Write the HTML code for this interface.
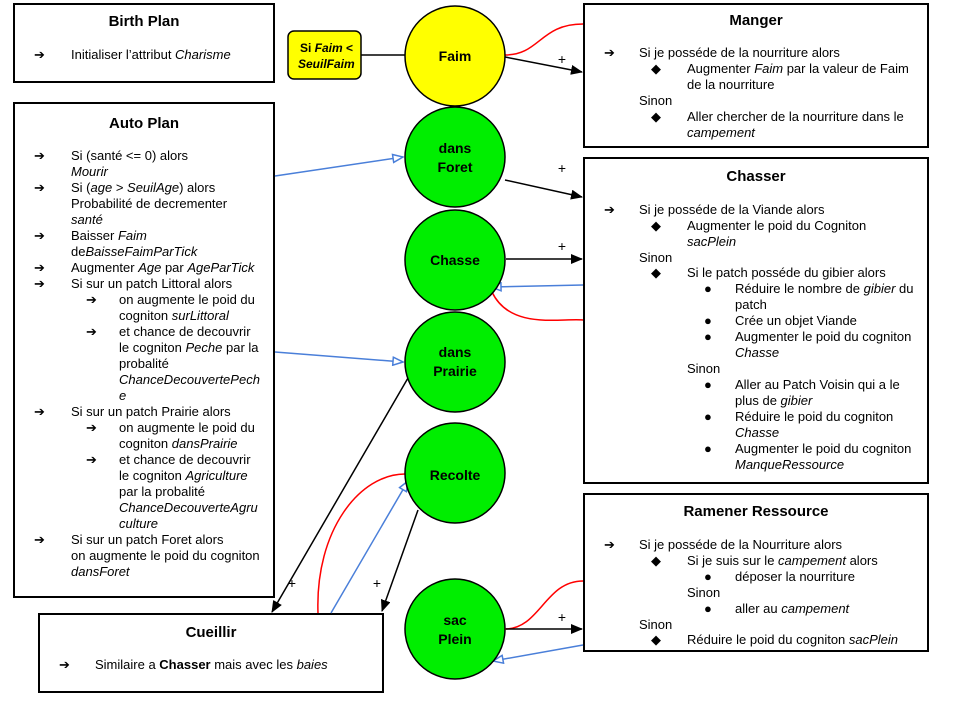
<!DOCTYPE html>
<html><head><meta charset="utf-8"><style>
body{margin:0;width:960px;height:720px;background:#fff;position:relative;overflow:hidden;font-family:"Liberation Sans",sans-serif;font-size:13px;color:#000}
.box{position:absolute;border:2px solid #000;background:#fff;box-sizing:border-box}
.t{position:absolute;white-space:nowrap;line-height:16px}
.h{position:absolute;font-weight:bold;font-size:15px;text-align:center;white-space:nowrap}
i{font-style:italic}
svg{position:absolute;left:0;top:0}
</style></head><body>
<div class="box" style="left:13px;top:3px;width:262px;height:80px"></div>
<div class="box" style="left:13px;top:102px;width:262px;height:496px"></div>
<div class="box" style="left:583px;top:3px;width:346px;height:145px"></div>
<div class="box" style="left:583px;top:157px;width:346px;height:327px"></div>
<div class="box" style="left:583px;top:493px;width:346px;height:159px"></div>
<div class="box" style="left:38px;top:613px;width:346px;height:80px"></div>

<svg width="960" height="720">
<defs>
<marker id="ab" markerWidth="12" markerHeight="10" refX="11" refY="5" orient="auto" markerUnits="userSpaceOnUse"><path d="M0,0 L12,5 L0,10z" fill="#000"/></marker>
<marker id="bl" markerWidth="12" markerHeight="10" refX="11" refY="5" orient="auto" markerUnits="userSpaceOnUse"><path d="M1,1 L11,5 L1,9z" fill="#fff" stroke="#4a7fd9" stroke-width="1.5"/></marker>
</defs>
<rect x="288" y="31" width="73" height="48" rx="6" fill="#ffff00" stroke="#000" stroke-width="1.5"/>
<line x1="361" y1="55" x2="405" y2="55" stroke="#000" stroke-width="1.5"/>
<g stroke-width="1.5" fill="none">
<path d="M505,55 C540,55 540,24 583,24" stroke="#f00"/>
<path d="M492,292 C510,330 560,318 583,320" stroke="#f00"/>
<path d="M318,613 C315,530 360,474 405,474" stroke="#f00"/>
<path d="M505,629 C540,629 545,581 583,581" stroke="#f00"/>
<line x1="505" y1="57" x2="582" y2="72" stroke="#000" marker-end="url(#ab)"/>
<line x1="505" y1="180" x2="582" y2="197" stroke="#000" marker-end="url(#ab)"/>
<line x1="506" y1="259" x2="582" y2="259" stroke="#000" marker-end="url(#ab)"/>
<line x1="408" y1="378" x2="272" y2="612" stroke="#000" marker-end="url(#ab)"/>
<line x1="418" y1="510" x2="382" y2="611" stroke="#000" marker-end="url(#ab)"/>
<line x1="506" y1="629" x2="582" y2="629" stroke="#000" marker-end="url(#ab)"/>
<line x1="275" y1="176" x2="403" y2="157" stroke="#4a7fd9" marker-end="url(#bl)"/>
<line x1="583" y1="285" x2="491" y2="287" stroke="#4a7fd9" marker-end="url(#bl)"/>
<line x1="275" y1="352" x2="403" y2="362" stroke="#4a7fd9" marker-end="url(#bl)"/>
<line x1="331" y1="613" x2="408" y2="481" stroke="#4a7fd9" marker-end="url(#bl)"/>
<line x1="583" y1="645" x2="493" y2="661" stroke="#4a7fd9" marker-end="url(#bl)"/>
</g>
<g stroke="#000" stroke-width="1.5">
<circle cx="455" cy="56" r="50" fill="#ffff00"/>
<circle cx="455" cy="157" r="50" fill="#00ee00"/>
<circle cx="455" cy="260" r="50" fill="#00ee00"/>
<circle cx="455" cy="362" r="50" fill="#00ee00"/>
<circle cx="455" cy="473" r="50" fill="#00ee00"/>
<circle cx="455" cy="629" r="50" fill="#00ee00"/>
</g>
<g font-family="Liberation Sans" font-weight="bold" font-size="14" text-anchor="middle">
<text x="455" y="61">Faim</text>
<text x="455" y="153">dans</text><text x="455" y="172">Foret</text>
<text x="455" y="265">Chasse</text>
<text x="455" y="357">dans</text><text x="455" y="376">Prairie</text>
<text x="455" y="480">Recolte</text>
<text x="455" y="625">sac</text><text x="455" y="644">Plein</text>
<text x="300" y="52" text-anchor="start" font-size="12">Si <tspan font-style="italic">Faim</tspan> &lt;</text>
<text x="298" y="68" text-anchor="start" font-size="12" font-style="italic">SeuilFaim</text>
</g>
<g font-family="Liberation Sans" font-size="14" text-anchor="middle">
<text x="562" y="64">+</text><text x="562" y="173">+</text><text x="562" y="251">+</text>
<text x="562" y="622">+</text><text x="292" y="588">+</text><text x="377" y="588">+</text>
</g>
</svg>

<div class="h" style="left:13px;width:262px;top:13px">Birth Plan</div>
<div class="t" style="left:34px;top:47px">➔</div><div class="t" style="left:71px;top:47px">Initialiser l’attribut <i>Charisme</i></div>

<div class="h" style="left:13px;width:262px;top:115px">Auto Plan</div>
<div class="t" style="left:34px;top:148px">➔</div><div class="t" style="left:71px;top:148px">Si (santé &lt;= 0) alors<br><i>Mourir</i></div>
<div class="t" style="left:34px;top:180px">➔</div><div class="t" style="left:71px;top:180px">Si (<i>age</i> &gt; <i>SeuilAge</i>) alors<br>Probabilité de decrementer<br><i>santé</i></div>
<div class="t" style="left:34px;top:228px">➔</div><div class="t" style="left:71px;top:228px">Baisser <i>Faim</i><br>de<i>BaisseFaimParTick</i></div>
<div class="t" style="left:34px;top:260px">➔</div><div class="t" style="left:71px;top:260px">Augmenter <i>Age</i> par <i>AgeParTick</i></div>
<div class="t" style="left:34px;top:276px">➔</div><div class="t" style="left:71px;top:276px">Si sur un patch Littoral alors</div>
<div class="t" style="left:86px;top:292px">➔</div><div class="t" style="left:119px;top:292px">on augmente le poid du<br>cogniton <i>surLittoral</i></div>
<div class="t" style="left:86px;top:324px">➔</div><div class="t" style="left:119px;top:324px">et chance de decouvrir<br>le cogniton <i>Peche</i> par la<br>probalité<br><i>ChanceDecouvertePech<br>e</i></div>
<div class="t" style="left:34px;top:404px">➔</div><div class="t" style="left:71px;top:404px">Si sur un patch Prairie alors</div>
<div class="t" style="left:86px;top:420px">➔</div><div class="t" style="left:119px;top:420px">on augmente le poid du<br>cogniton <i>dansPrairie</i></div>
<div class="t" style="left:86px;top:452px">➔</div><div class="t" style="left:119px;top:452px">et chance de decouvrir<br>le cogniton <i>Agriculture</i><br>par la probalité<br><i>ChanceDecouverteAgru<br>culture</i></div>
<div class="t" style="left:34px;top:532px">➔</div><div class="t" style="left:71px;top:532px">Si sur un patch Foret alors<br>on augmente le poid du cogniton<br><i>dansForet</i></div>

<div class="h" style="left:583px;width:346px;top:12px">Manger</div>
<div class="t" style="left:604px;top:45px">➔</div><div class="t" style="left:639px;top:45px">Si je posséde de la nourriture alors</div>
<div class="t" style="left:651px;top:61px">◆</div><div class="t" style="left:687px;top:61px">Augmenter <i>Faim</i> par la valeur de Faim<br>de la nourriture</div>
<div class="t" style="left:639px;top:93px">Sinon</div>
<div class="t" style="left:651px;top:109px">◆</div><div class="t" style="left:687px;top:109px">Aller chercher de la nourriture dans le<br><i>campement</i></div>

<div class="h" style="left:583px;width:346px;top:168px">Chasser</div>
<div class="t" style="left:604px;top:202px">➔</div><div class="t" style="left:639px;top:202px">Si je posséde de la Viande alors</div>
<div class="t" style="left:651px;top:218px">◆</div><div class="t" style="left:687px;top:218px">Augmenter le poid du Cogniton<br><i>sacPlein</i></div>
<div class="t" style="left:639px;top:250px">Sinon</div>
<div class="t" style="left:651px;top:265px">◆</div><div class="t" style="left:687px;top:265px">Si le patch posséde du gibier alors</div>
<div class="t" style="left:704px;top:281px">●</div><div class="t" style="left:735px;top:281px">Réduire le nombre de <i>gibier</i> du<br>patch</div>
<div class="t" style="left:704px;top:313px">●</div><div class="t" style="left:735px;top:313px">Crée un objet Viande</div>
<div class="t" style="left:704px;top:329px">●</div><div class="t" style="left:735px;top:329px">Augmenter le poid du cogniton<br><i>Chasse</i></div>
<div class="t" style="left:687px;top:361px">Sinon</div>
<div class="t" style="left:704px;top:377px">●</div><div class="t" style="left:735px;top:377px">Aller au Patch Voisin qui a le<br>plus de <i>gibier</i></div>
<div class="t" style="left:704px;top:409px">●</div><div class="t" style="left:735px;top:409px">Réduire le poid du cogniton<br><i>Chasse</i></div>
<div class="t" style="left:704px;top:441px">●</div><div class="t" style="left:735px;top:441px">Augmenter le poid du cogniton<br><i>ManqueRessource</i></div>

<div class="h" style="left:583px;width:346px;top:503px">Ramener Ressource</div>
<div class="t" style="left:604px;top:537px">➔</div><div class="t" style="left:639px;top:537px">Si je posséde de la Nourriture alors</div>
<div class="t" style="left:651px;top:553px">◆</div><div class="t" style="left:687px;top:553px">Si je suis sur le <i>campement</i> alors</div>
<div class="t" style="left:704px;top:569px">●</div><div class="t" style="left:735px;top:569px">déposer la nourriture</div>
<div class="t" style="left:687px;top:585px">Sinon</div>
<div class="t" style="left:704px;top:601px">●</div><div class="t" style="left:735px;top:601px">aller au <i>campement</i></div>
<div class="t" style="left:639px;top:617px">Sinon</div>
<div class="t" style="left:651px;top:632px">◆</div><div class="t" style="left:687px;top:632px">Réduire le poid du cogniton <i>sacPlein</i></div>

<div class="h" style="left:38px;width:346px;top:624px">Cueillir</div>
<div class="t" style="left:59px;top:657px">➔</div><div class="t" style="left:95px;top:657px">Similaire a <b>Chasser</b> mais avec les <i>baies</i></div>
</body></html>
